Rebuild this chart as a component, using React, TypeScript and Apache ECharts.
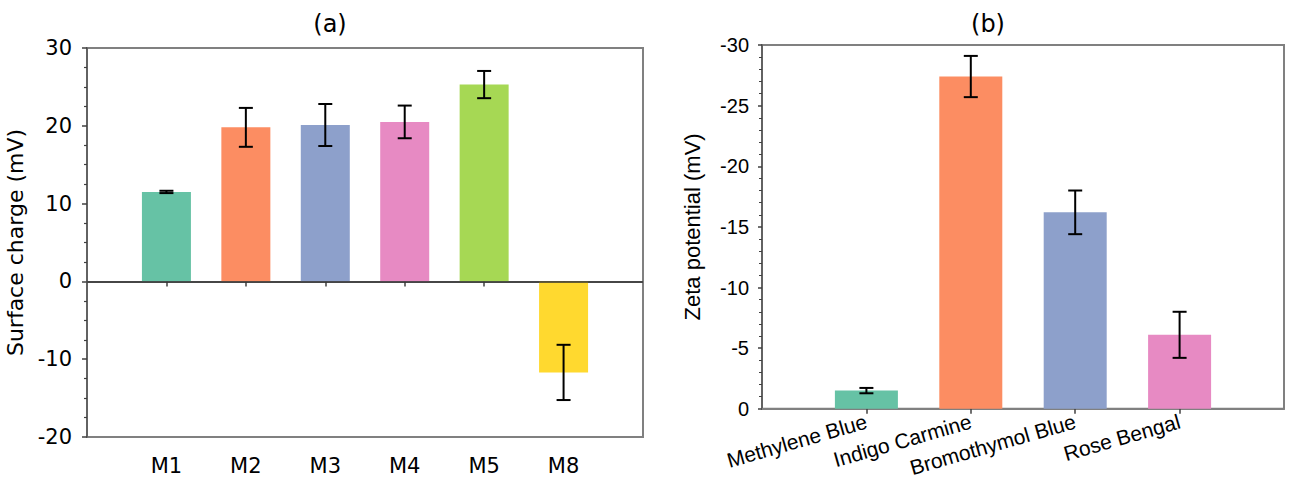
import React, { useEffect, useRef } from "react";
import * as echarts from "echarts";

// Panel (a): surface charge of the membranes
const surfaceLabels = ["M1", "M2", "M3", "M4", "M5", "M8"];
const surfaceValues = [11.5, 19.8, 20.1, 20.5, 25.3, -11.7];
const surfaceErrors = [0.15, 2.5, 2.7, 2.1, 1.75, 3.55];
const surfaceColors = ["#66c2a5", "#fc8d62", "#8da0cb", "#e78ac3", "#a6d854", "#ffd92f"];
const surfaceTicks = { min: -20, max: 30, interval: 10 };

// Panel (b): zeta potential of the dyes
const dyeLabels = ["Methylene Blue", "Indigo Carmine", "Bromothymol Blue", "Rose Bengal"];
const zetaValues = [-1.5, -27.4, -16.2, -6.1];
const zetaErrors = [0.22, 1.7, 1.8, 1.9];
const dyeColors = ["#66c2a5", "#fc8d62", "#8da0cb", "#e78ac3"];
const zetaTicks = { min: -30, max: 0, interval: 5 };

const FONT_A = "DejaVu Sans";
const FONT_B = "Liberation Sans";

// pad categories with an empty slot at each end so the bars sit on interior points
const pad = <T,>(arr: T[], fill: T): T[] => [fill, ...arr, fill];

const errorRenderer = (halfCap: number) => (params: any, api: any) => {
  const x = api.value(0);
  const lo = api.coord([x, api.value(1)]);
  const hi = api.coord([x, api.value(2)]);
  const style = { stroke: "#000", lineWidth: 2 };
  return {
    type: "group",
    children: [
      { type: "line", shape: { x1: lo[0], y1: lo[1], x2: hi[0], y2: hi[1] }, style },
      { type: "line", shape: { x1: lo[0] - halfCap, y1: lo[1], x2: lo[0] + halfCap, y2: lo[1] }, style },
      { type: "line", shape: { x1: hi[0] - halfCap, y1: hi[1], x2: hi[0] + halfCap, y2: hi[1] }, style },
    ],
  };
};

export default function App() {
  const ref = useRef<HTMLDivElement>(null);

  useEffect(() => {
    document.body.style.margin = "0";
    if (!ref.current) return;
    const chart = echarts.init(ref.current, null, { renderer: "svg" });

    const catA = pad(surfaceLabels, "");
    const catB = pad(dyeLabels, "");
    const innerTick = (n: number) => (i: number) => i > 0 && i < n - 1;

    const barsA = pad(
      surfaceValues.map((v, i) => ({ value: v, itemStyle: { color: surfaceColors[i] } })),
      "-" as any
    );
    const barsB = pad(
      zetaValues.map((v, i) => ({ value: v, itemStyle: { color: dyeColors[i] } })),
      "-" as any
    );
    const errA = surfaceValues.map((v, i) => [i + 1, v - surfaceErrors[i], v + surfaceErrors[i]]);
    const errB = zetaValues.map((v, i) => [i + 1, v - zetaErrors[i], v + zetaErrors[i]]);

    chart.setOption({
      animation: false,
      backgroundColor: "#fff",
      title: [
        {
          text: "(a)",
          left: 325,
          top: 7,
          textAlign: "center",
          textStyle: { fontFamily: FONT_A, fontSize: 24, fontWeight: "normal", color: "#000" },
        },
        {
          text: "(b)",
          left: 983,
          top: 7,
          textAlign: "center",
          textStyle: { fontFamily: FONT_A, fontSize: 24, fontWeight: "normal", color: "#000" },
        },
      ],
      grid: [
        { left: 87, top: 48, width: 556, height: 389, show: true, borderColor: "#808080", borderWidth: 2 },
        { left: 762, top: 45, width: 522, height: 365, show: true, borderColor: "#808080", borderWidth: 2 },
      ],
      xAxis: [
        {
          gridIndex: 0,
          type: "category",
          data: catA,
          boundaryGap: false,
          axisLine: { lineStyle: { color: "#808080", width: 2 } },
          axisTick: { interval: innerTick(catA.length), length: 5, lineStyle: { color: "#404040", width: 1.5 } },
          axisLabel: { interval: 0, margin: 18, color: "#000", fontFamily: FONT_A, fontSize: 21 },
        },
        {
          gridIndex: 1,
          type: "category",
          data: catB,
          boundaryGap: false,
          axisLine: { lineStyle: { color: "#808080", width: 2 } },
          axisTick: { interval: innerTick(catB.length), length: 5, lineStyle: { color: "#404040", width: 1.5 } },
          axisLabel: { interval: 0, margin: 12, rotate: 16, color: "#000", fontFamily: FONT_B, fontSize: 21 },
        },
      ],
      yAxis: [
        {
          gridIndex: 0,
          type: "value",
          min: surfaceTicks.min,
          max: surfaceTicks.max,
          interval: surfaceTicks.interval,
          name: "Surface charge (mV)",
          nameLocation: "middle",
          nameGap: 61,
          nameTextStyle: { fontFamily: FONT_A, fontSize: 22, color: "#000" },
          axisLine: { show: true, lineStyle: { color: "#595959", width: 1.5 } },
          axisTick: { show: true, length: 5, lineStyle: { color: "#404040", width: 1.5 } },
          minorTick: { show: true, splitNumber: 4, length: 3, lineStyle: { color: "#404040", width: 1.2 } },
          splitLine: { show: false },
          axisLabel: { margin: 15, color: "#000", fontFamily: FONT_A, fontSize: 21 },
        },
        {
          gridIndex: 1,
          type: "value",
          inverse: true,
          min: zetaTicks.min,
          max: zetaTicks.max,
          interval: zetaTicks.interval,
          name: "Zeta potential (mV)",
          nameLocation: "middle",
          nameGap: 59,
          nameTextStyle: { fontFamily: FONT_B, fontSize: 22, color: "#000" },
          axisLine: { show: true, lineStyle: { color: "#595959", width: 1.5 } },
          axisTick: { show: true, length: 4, lineStyle: { color: "#404040", width: 1.5 } },
          minorTick: { show: true, splitNumber: 5, length: 3, lineStyle: { color: "#404040", width: 1 } },
          splitLine: { show: false },
          axisLabel: { margin: 13, color: "#000", fontFamily: FONT_B, fontSize: 20 },
        },
      ],
      series: [
        {
          type: "bar",
          xAxisIndex: 0,
          yAxisIndex: 0,
          data: barsA,
          barWidth: 49,
          markLine: {
            silent: true,
            symbol: "none",
            label: { show: false },
            lineStyle: { color: "#333", width: 1.5, type: "solid" },
            data: [{ yAxis: 0 }],
          },
        },
        {
          type: "custom",
          xAxisIndex: 0,
          yAxisIndex: 0,
          data: errA,
          encode: { x: 0, y: [1, 2] },
          renderItem: errorRenderer(7),
          z: 5,
        },
        {
          type: "bar",
          xAxisIndex: 1,
          yAxisIndex: 1,
          data: barsB,
          barWidth: 63,
        },
        {
          type: "custom",
          xAxisIndex: 1,
          yAxisIndex: 1,
          data: errB,
          encode: { x: 0, y: [1, 2] },
          renderItem: errorRenderer(7),
          z: 5,
        },
      ],
    });

    return () => chart.dispose();
  }, []);

  return <div ref={ref} style={{ width: 1294, height: 479 }} />;
}
